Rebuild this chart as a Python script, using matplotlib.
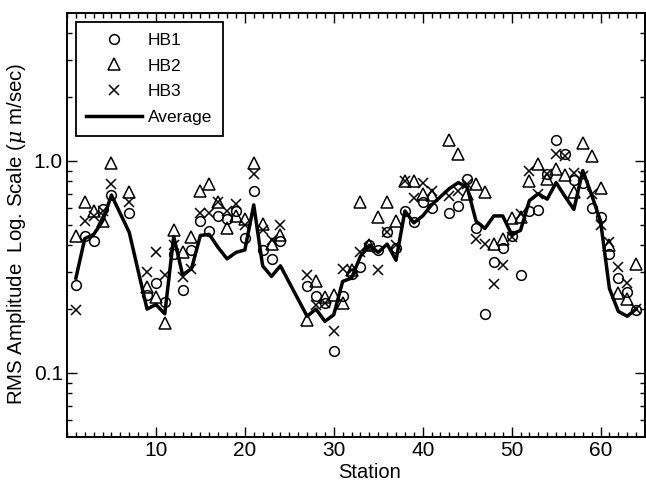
import matplotlib
matplotlib.use("Agg")
import matplotlib.pyplot as plt
from matplotlib.ticker import FixedLocator, FixedFormatter, MultipleLocator, NullFormatter
import numpy as np

## station numbers that have readings (6, 8, 25, 26, 42 missing)
stations = [1, 2, 3, 4, 5, 7, 9, 10, 11, 12, 13, 14, 15, 16, 17, 18, 19, 20, 21, 22, 23, 24,
            27, 28, 29, 30, 31, 32, 33, 34, 35, 36, 37, 38, 39, 40, 41,
            43, 44, 45, 46, 47, 48, 49, 50, 51, 52, 53, 54, 55, 56, 57, 58, 59, 60, 61, 62, 63, 64]

hb1 = [0.26, 0.44, 0.42, 0.59, 0.69, 0.57, 0.233, 0.266, 0.217, 0.365, 0.246, 0.378, 0.523, 0.466,
       0.552, 0.533, 0.578, 0.432, 0.723, 0.378, 0.345, 0.42,
       0.257, 0.23, 0.213, 0.127, 0.23, 0.294, 0.316, 0.40, 0.378, 0.46, 0.39, 0.583, 0.513, 0.64, 0.60,
       0.57, 0.615, 0.82, 0.483, 0.19, 0.334, 0.39, 0.44, 0.289, 0.583, 0.587, 0.866, 1.26, 1.08,
       0.81, 0.79, 0.60, 0.546, 0.365, 0.28, 0.241, 0.198]

hb2 = [0.44, 0.64, 0.58, 0.52, 0.98, 0.71, 0.255, 0.228, 0.172, 0.47, 0.37, 0.437, 0.723, 0.78,
       0.642, 0.48, 0.552, 0.53, 0.98, 0.505, 0.407, 0.445,
       0.178, 0.271, 0.228, 0.233, 0.213, 0.305, 0.638, 0.40, 0.543, 0.638, 0.523, 0.80, 0.80, 0.70, 0.69,
       1.25, 1.075, 0.70, 0.78, 0.71, 0.407, 0.43, 0.54, 0.546, 0.806, 0.965, 0.82, 0.92, 0.86,
       0.71, 1.22, 1.055, 0.745, 0.40, 0.239, 0.224, 0.325]

hb3 = [0.197, 0.52, 0.55, 0.58, 0.78, 0.64, 0.30, 0.37, 0.29, 0.40, 0.284, 0.31, 0.57, 0.57,
       0.64, 0.583, 0.626, 0.496, 0.866, 0.47, 0.422, 0.50,
       0.289, 0.21, 0.213, 0.158, 0.31, 0.305, 0.37, 0.39, 0.305, 0.46, 0.40, 0.80, 0.67, 0.79, 0.72,
       0.68, 0.72, 0.78, 0.43, 0.407, 0.264, 0.322, 0.437, 0.563, 0.90, 0.70, 0.866, 1.08, 1.05,
       0.88, 0.85, 0.70, 0.50, 0.414, 0.316, 0.266, 0.20]

average = [0.28, 0.43, 0.45, 0.52, 0.69, 0.46, 0.20, 0.21, 0.19, 0.44, 0.29, 0.31, 0.445, 0.45,
           0.39, 0.345, 0.37, 0.38, 0.62, 0.32, 0.285, 0.32,
           0.185, 0.20, 0.175, 0.188, 0.27, 0.28, 0.355, 0.40, 0.37, 0.405, 0.34, 0.58, 0.51, 0.55, 0.62,
           0.74, 0.79, 0.75, 0.52, 0.48, 0.55, 0.55, 0.45, 0.47, 0.65, 0.70, 0.66, 0.79, 0.68,
           0.59, 0.90, 0.69, 0.52, 0.25, 0.195, 0.185, 0.20]

y_ticks = [0.1, 1.0]
y_tick_labels = ["0.1", "1.0"]
x_ticks = [10, 20, 30, 40, 50, 60]

plt.rcParams["font.family"] = ["Liberation Sans", "DejaVu Sans"]
plt.rcParams["mathtext.fontset"] = "custom"
plt.rcParams["mathtext.it"] = "DejaVu Serif:italic"

fig = plt.figure(figsize=(6.46, 4.82), dpi=100)
ax = fig.add_axes([67 / 646, 1 - 436.7 / 482, 578 / 646, 424 / 482])

ax.plot(stations, hb1, linestyle="none", marker="o", markersize=7, markerfacecolor="none",
        markeredgecolor="black", markeredgewidth=1.1, label="HB1")
ax.plot(stations, hb2, linestyle="none", marker="^", markersize=8, markerfacecolor="none",
        markeredgecolor="black", markeredgewidth=1.1, label="HB2")
ax.plot(stations, hb3, linestyle="none", marker="x", markersize=7.5,
        markeredgecolor="black", markeredgewidth=1.1, label="HB3")
ax.plot(stations, average, color="black", linewidth=2.5, label="Average")

ax.set_yscale("log")
ax.set_xlim(0, 65)
ax.set_ylim(0.05, 5)

ax.xaxis.set_major_locator(FixedLocator(x_ticks))
ax.xaxis.set_minor_locator(MultipleLocator(1))
ax.yaxis.set_major_locator(FixedLocator(y_ticks))
ax.yaxis.set_major_formatter(FixedFormatter(y_tick_labels))
ax.yaxis.set_minor_locator(FixedLocator([0.06, 0.07, 0.08, 0.09, 0.2, 0.3, 0.4, 0.5, 0.6, 0.7,
                                         0.8, 0.9, 2, 3, 4]))
ax.yaxis.set_minor_formatter(NullFormatter())

ax.tick_params(which="both", direction="in", top=True, right=True, width=1, labelsize=15)
ax.tick_params(which="major", length=7, pad=3)
ax.tick_params(which="minor", length=3.5)
for s in ax.spines.values():
    s.set_linewidth(1.4)

ax.set_xlabel("Station", fontsize=14.5, labelpad=0)
ax.xaxis.set_label_coords(0.524, -0.062)
ax.set_ylabel("RMS Amplitude  Log. Scale ($\\mu$ m/sec)", fontsize=14.7)
ax.yaxis.set_label_coords(-0.0675, 0.478)

leg = ax.legend(loc="upper left", bbox_to_anchor=(0.0156, 0.978), borderaxespad=0,
                fontsize=12.5, numpoints=1, handlelength=3.2, handletextpad=0.35,
                labelspacing=0.62, borderpad=0.6,
                fancybox=False, edgecolor="black", framealpha=1)
leg.get_frame().set_linewidth(1.3)

fig.savefig("out.png", dpi=100)
